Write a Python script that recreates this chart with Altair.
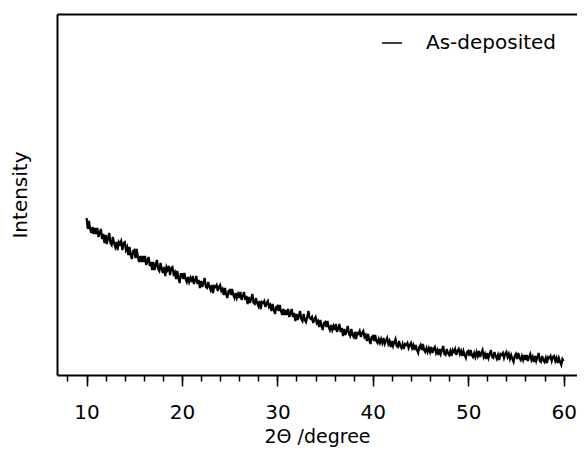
import altair as alt
import pandas as pd

two_theta_start = 10.0
two_theta_step = 0.125
# one row per degree, eight readings per row (10.000 ... 59.875), then 60.0
intensity = [
    157, 146, 154, 146, 142, 148, 141, 147,
    141, 147, 138, 142, 146, 136, 141, 132,
    140, 131, 137, 142, 132, 130, 138, 132,
    128, 133, 125, 133, 131, 134, 125, 132,
    133, 125, 128, 120, 128, 120, 116, 124,
    125, 117, 126, 118, 113, 119, 113, 119,
    113, 119, 110, 114, 118, 109, 113, 105,
    113, 105, 110, 115, 106, 104, 112, 106,
    102, 108, 99, 108, 105, 109, 100, 107,
    108, 101, 103, 96, 104, 97, 92, 101,
    101, 96, 102, 96, 93, 98, 93, 97,
    93, 99, 91, 95, 99, 91, 95, 87,
    94, 88, 92, 97, 88, 87, 93, 88,
    85, 90, 82, 89, 88, 90, 84, 88,
    90, 84, 86, 80, 87, 81, 77, 84,
    85, 80, 86, 80, 77, 82, 77, 81,
    77, 83, 75, 79, 83, 75, 79, 71,
    78, 72, 76, 81, 72, 71, 77, 72,
    69, 74, 66, 73, 72, 74, 68, 72,
    74, 68, 70, 64, 71, 65, 61, 68,
    69, 64, 70, 64, 60, 66, 60, 65,
    60, 66, 58, 62, 66, 58, 62, 54,
    61, 55, 59, 64, 56, 54, 61, 55,
    53, 58, 64, 57, 56, 58, 52, 56,
    58, 52, 54, 48, 55, 49, 45, 52,
    53, 48, 54, 48, 45, 50, 45, 49,
    45, 51, 43, 47, 51, 43, 47, 39,
    46, 40, 44, 49, 41, 39, 46, 40,
    38, 43, 36, 42, 41, 44, 38, 42,
    44, 38, 40, 34, 41, 35, 31, 38,
    39, 34, 40, 34, 32, 36, 32, 36,
    32, 37, 31, 34, 37, 31, 34, 28,
    34, 29, 33, 36, 29, 28, 34, 29,
    27, 31, 26, 31, 30, 32, 27, 30,
    32, 27, 30, 25, 30, 25, 22, 28,
    30, 25, 31, 25, 23, 27, 23, 27,
    23, 28, 22, 26, 28, 22, 25, 20,
    26, 21, 25, 29, 21, 20, 26, 22,
    20, 24, 19, 25, 23, 26, 20, 24,
    26, 21, 24, 19, 24, 20, 17, 23,
    24, 19, 25, 20, 18, 22, 18, 23,
    19, 24, 18, 22, 25, 18, 21, 16,
    22, 17, 21, 25, 18, 17, 23, 19,
    16, 20, 15, 21, 20, 22, 17, 21,
    23, 18, 21, 16, 20, 16, 13, 19,
    21, 16, 22, 17, 15, 19, 15, 20,
    15, 20, 14, 18, 21, 15, 18, 13,
    19, 14, 18, 22, 14, 13, 19, 15,
    13, 17, 12, 18, 17, 19, 14, 18,
    19, 14, 17, 12, 17, 13, 10, 16,
    14,
]
two_theta = [round(two_theta_start + i * two_theta_step, 3) for i in range(len(intensity))]
sample = ["As-deposited"] * len(intensity)
major_ticks = [10, 20, 30, 40, 50, 60]
minor_ticks = list(range(8, 62, 2))

df = pd.DataFrame({"two_theta": two_theta, "intensity": intensity, "sample": sample})

xscale = alt.Scale(domain=[6.9, 61.4], nice=False, zero=False)
yscale = alt.Scale(domain=[0, 361], nice=False, zero=False)

base = alt.Chart(df)

line = base.mark_line(strokeWidth=2.2).encode(
    x=alt.X(
        "two_theta:Q",
        scale=xscale,
        axis=alt.Axis(
            values=major_ticks,
            title="2Θ /degree",
            format="d",
            orient="bottom",
            tickSize=11,
            tickWidth=1.5,
            labelFontSize=20,
            titleFontSize=19,
            titleFontWeight="normal",
            labelPadding=16,
            titlePadding=5,
            domainWidth=2,
            domainColor="black",
            grid=False,
        ),
    ),
    y=alt.Y(
        "intensity:Q",
        scale=yscale,
        axis=alt.Axis(
            title="Intensity",
            labels=False,
            ticks=False,
            grid=False,
            domainWidth=2,
            domainColor="black",
            titleFontSize=20,
            titleFontWeight="normal",
            titlePadding=27,
        ),
    ),
    color=alt.Color(
        "sample:N",
        scale=alt.Scale(domain=["As-deposited"], range=["black"]),
        legend=alt.Legend(
            title=None,
            orient="none",
            legendX=324,
            legendY=18,
            symbolType="stroke",
            symbolSize=400,
            symbolStrokeWidth=1.5,
            labelFontSize=20,
            labelOffset=23,
            padding=0,
        ),
    ),
)

minor = base.mark_rule(strokeOpacity=0).encode(
    x=alt.X(
        "two_theta:Q",
        scale=xscale,
        axis=alt.Axis(
            values=minor_ticks,
            labels=False,
            title="",
            orient="bottom",
            tickSize=6,
            tickWidth=1.5,
            domain=False,
            grid=False,
        ),
    ),
)

top_border = base.mark_rule(strokeOpacity=0).encode(
    x=alt.X(
        "two_theta:Q",
        scale=xscale,
        axis=alt.Axis(
            labels=False,
            ticks=False,
            title="",
            orient="top",
            domain=True,
            domainWidth=2,
            domainColor="black",
            grid=False,
        ),
    ),
)

chart = (
    alt.layer(line, minor, top_border)
    .resolve_axis(x="independent")
    .properties(
        width=520,
        height=361,
        autosize=alt.AutoSizeParams(type="none"),
        padding={"left": 49, "top": 6, "right": 0, "bottom": 72},
    )
    .configure_view(stroke=None)
    .configure_axis(
        labelFont="DejaVu Sans",
        titleFont="DejaVu Sans",
        labelColor="black",
        titleColor="black",
        tickColor="black",
    )
    .configure_legend(labelFont="DejaVu Sans", labelColor="black")
)

chart.save("out.html", embed_options={"renderer": "svg", "actions": False})
